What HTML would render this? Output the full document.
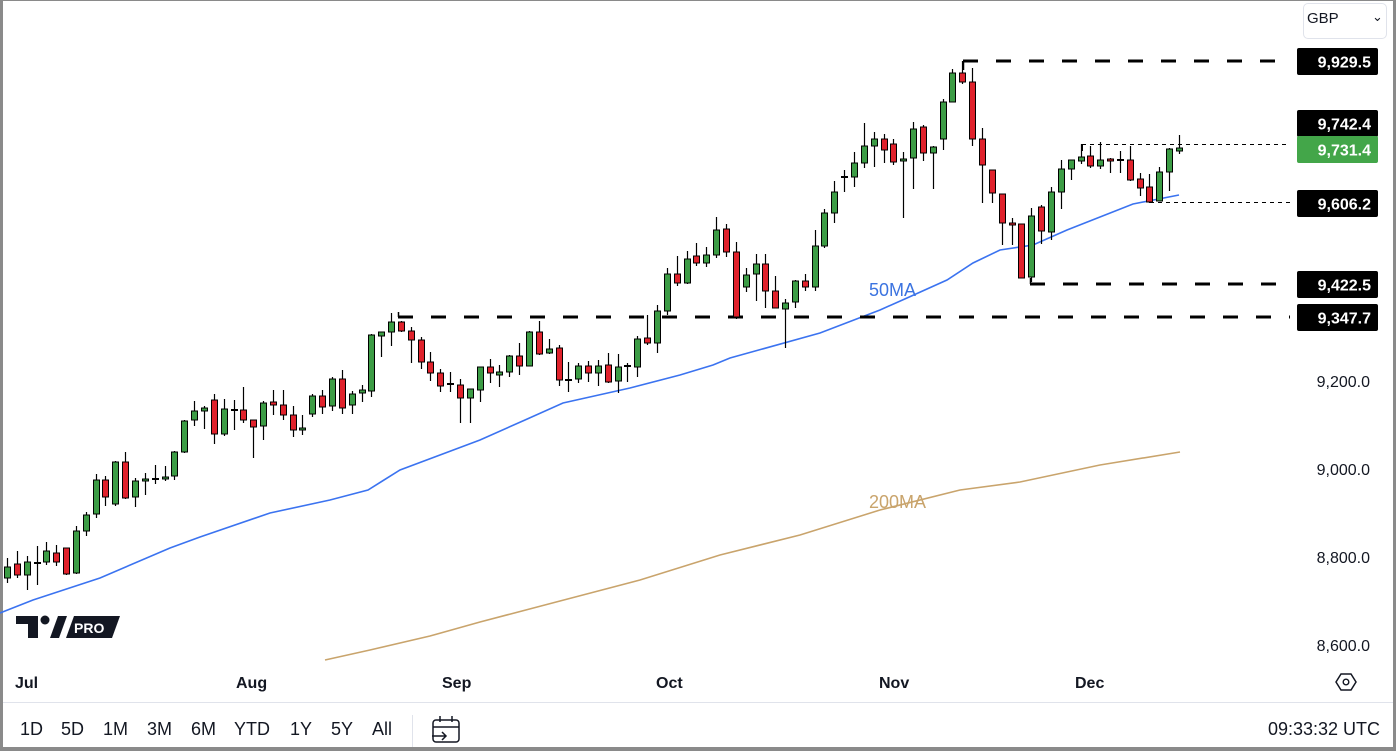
<!DOCTYPE html>
<html><head><meta charset="utf-8">
<style>
html,body{margin:0;padding:0;background:#fff;}
body{width:1396px;height:751px;overflow:hidden;position:relative;font-family:"Liberation Sans","DejaVu Sans",sans-serif;}
#frame{position:absolute;left:0;top:0;width:1390px;height:746px;border-left:3px solid #8a8a8a;border-right:3px solid #8a8a8a;border-bottom:4px solid #8a8a8a;border-top:1px solid #8a8a8a;}
.tb{position:absolute;top:719px;font-size:18px;color:#131722;}
.mo{position:absolute;top:675px;font-size:16px;font-weight:bold;color:#131722;}
</style></head><body>
<div id="frame"></div>
<svg id="s" width="1396" height="751" style="position:absolute;left:0;top:0" xmlns="http://www.w3.org/2000/svg">
<g id="ma"></g>
<g id="lines"></g>
<g id="c"></g>
<g id="axis" font-family="Liberation Sans, sans-serif"></g>
</svg>
<div class="mo" style="left:15px">Jul</div>
<div class="mo" style="left:236px">Aug</div>
<div class="mo" style="left:442px">Sep</div>
<div class="mo" style="left:656px">Oct</div>
<div class="mo" style="left:879px">Nov</div>
<div class="mo" style="left:1075px">Dec</div>
<div style="position:absolute;left:3px;top:702px;width:1390px;height:1px;background:#e0e3eb"></div>
<div class="tb" style="left:20px">1D</div>
<div class="tb" style="left:61px">5D</div>
<div class="tb" style="left:103px">1M</div>
<div class="tb" style="left:147px">3M</div>
<div class="tb" style="left:191px">6M</div>
<div class="tb" style="left:234px">YTD</div>
<div class="tb" style="left:290px">1Y</div>
<div class="tb" style="left:331px">5Y</div>
<div class="tb" style="left:372px">All</div>
<div style="position:absolute;left:412px;top:715px;width:1px;height:32px;background:#e0e3eb"></div>
<div class="tb" style="right:16px">09:33:32 UTC</div>
<div style="position:absolute;left:1303px;top:3px;width:82px;height:34px;border:1px solid #e0e3eb;border-radius:5px;"></div>
<div style="position:absolute;left:1307px;top:10px;font-size:15px;color:#131722">GBP</div>
<div style="position:absolute;left:1372px;top:9px;font-size:13px;color:#131722">&#8964;</div>
<script>
var S='http://www.w3.org/2000/svg';
function el(p,t,a,txt){var e=document.createElementNS(S,t);for(var k in a)e.setAttribute(k,a[k]);if(txt!=null)e.textContent=txt;document.getElementById(p).appendChild(e);return e;}
var D=[
['g',567,578,558,583],['r',564,575,551,578],['g',562,575,556,590],['d',563,563,546,585],['g',551,562,542,565],
['r',553,562,545,566],['r',548,574,548,575],['g',531,573,526,574],['g',515,531,512,536],['g',480,514,474,518],
['r',480,497,476,506],['g',462,504,461,506],['r',462,498,452,499],['g',481,497,478,507],['g',479,481,473,495],
['d',479,479,465,484],['g',477,479,466,481],['g',452,476,451,480],['g',421,452,420,453],['g',411,420,401,426],
['g',408,411,406,429],['r',400,434,394,444],['g',409,434,399,436],['d',410,410,400,430],['r',410,420,387,423],
['r',420,427,420,458],['g',403,426,401,440],['r',402,405,390,415],['r',405,415,390,420],['r',415,430,406,437],
['g',428,430,415,435],['g',396,414,394,417],['r',396,407,390,414],['g',379,406,377,411],['r',379,408,370,414],
['g',394,405,391,414],['g',390,393,385,402],['g',335,391,334,397],['g',332,336,332,357],['g',322,332,313,346],
['r',322,331,321,332],['r',331,340,327,363],['r',340,362,337,369],['r',362,373,352,381],['r',373,386,369,392],
['d',384,384,372,392],['r',385,398,379,423],['g',389,398,389,423],['g',367,390,367,402],['r',367,373,359,383],
['g',372,375,365,387],['g',356,372,355,377],['r',356,366,343,375],['g',332,366,331,366],['r',332,354,321,355],
['g',349,353,339,354],['r',348,380,345,386],['d',380,380,362,392],['g',366,379,363,383],['r',366,373,361,382],
['g',366,373,360,386],['r',365,382,353,383],['g',367,381,354,393],['d',366,366,363,382],['g',339,367,336,377],
['r',338,343,315,345],['g',311,343,305,353],['g',274,311,268,315],['r',274,283,256,286],['g',259,283,251,284],
['r',256,263,243,266],['g',255,263,247,267],['g',230,255,217,258],['r',229,252,224,257],['r',252,317,242,319],
['g',275,287,268,292],['g',264,274,254,301],['r',264,291,254,308],['r',291,308,276,308],['g',303,309,299,348],
['g',281,302,280,308],['r',281,287,274,291],['g',246,287,230,291],['g',213,246,209,248],['g',192,213,181,223],
['d',177,177,170,192],['g',163,177,152,187],['g',146,163,123,168],['g',139,146,132,167],['r',139,150,134,163],
['r',144,162,139,165],['g',159,161,152,218],['g',129,158,122,189],['r',127,153,125,161],['g',147,153,146,189],
['g',102,139,99,150],['g',73,102,69,102],['r',73,82,61,84],['r',82,139,68,146],['r',139,165,128,203],
['r',170,193,170,203],['r',194,223,194,245],['r',223,225,218,245],['r',224,278,224,278],['g',216,277,208,282],
['r',207,231,205,244],['g',192,232,187,240],['g',169,192,160,209],['g',160,169,160,180],['g',157,161,144,164],
['r',156,166,146,168],['g',160,166,142,169],['r',159,161,158,173],['d',160,160,151,173],['r',160,180,146,181],
['r',179,188,173,196],['r',187,202,174,203],['g',172,201,167,201],['g',149,172,148,191],['g',148,151,135,154]];
var n=D.length,sp=(1179-7)/(n-1);
for(var i=0;i<n;i++){var d=D[i],x=Math.round(7+sp*i)+0.5;
el('c','line',{x1:x,x2:x,y1:d[3],y2:d[4],stroke:'#000','stroke-width':1.2});
if(d[0]=='d'){el('c','rect',{x:x-3.5,y:d[1]-1,width:7,height:2,fill:'#000'});}
else{var h=Math.max(d[2]-d[1],2);el('c','rect',{x:x-3,y:d[1],width:6,height:h,fill:d[0]=='g'?'#3c9c45':'#e0222c',stroke:'#000','stroke-width':1});}}
el('ma','polyline',{points:'0,613 33,600 100,578 170,548 200,537 270,513 330,500 368,490 400,470 480,440 525,420 563,403 630,388 680,375 713,365 730,358 820,333 880,310 907,298 947,280 973,263 1000,250 1033,245 1067,230 1100,217 1133,204 1179,195',fill:'none',stroke:'#3b73f0','stroke-width':1.6});
el('ma','polyline',{points:'325,660 370,650 430,636 480,622 560,601 640,580 720,555 800,535 880,510 960,490 1020,482 1100,465 1180,452',fill:'none',stroke:'#c9a46c','stroke-width':1.6});
el('ma','text',{x:869,y:296,fill:'#3b73e0','font-size':18,'font-family':'Liberation Sans, sans-serif'},'50MA');
el('ma','text',{x:869,y:508,fill:'#c9a46c','font-size':18,'font-family':'Liberation Sans, sans-serif'},'200MA');
function th(x1,y,tx,ty){el('lines','line',{x1:x1,x2:1290,y1:y,y2:y,stroke:'#000','stroke-width':3,'stroke-dasharray':'15 18'});el('lines','line',{x1:tx,x2:tx,y1:ty,y2:y,stroke:'#000','stroke-width':1.5});}
th(963,61,963.5,70);th(1030,284,1030.5,278);th(398,317,398.5,312);
function tn(x1,y,ty){el('lines','line',{x1:x1,x2:1290,y1:y+.5,y2:y+.5,stroke:'#000','stroke-width':1,'stroke-dasharray':'4 4'});el('lines','line',{x1:x1+.5,x2:x1+.5,y1:y,y2:ty,stroke:'#000','stroke-width':1});}
tn(1082,144,151);tn(1150,202,198);
[[9929.5,48,'#000'],[9742.4,110,'#000'],[9731.4,136,'#43a649'],[9606.2,190,'#000'],[9422.5,271,'#000'],[9347.7,304,'#000']].forEach(function(b){
el('axis','rect',{x:1297,y:b[1],width:81,height:27,rx:2,fill:b[2]});
el('axis','text',{x:1371,y:b[1]+19.5,'text-anchor':'end',fill:'#fff','font-size':16,'font-weight':'bold'},b[0].toLocaleString('en-US',{minimumFractionDigits:1}));});
[['9,200.0',381],['9,000.0',469],['8,800.0',557],['8,600.0',645]].forEach(function(t){
el('axis','text',{x:1370,y:t[1]+6,'text-anchor':'end',fill:'#131722','font-size':16},t[0]);});
el('axis','polygon',{points:'1336,682 1341,674 1351,674 1356,682 1351,690 1341,690',fill:'none',stroke:'#131722','stroke-width':1.5});
el('axis','circle',{cx:1346,cy:682,r:2.8,fill:'none',stroke:'#131722','stroke-width':1.4});
el('axis','path',{d:'M16,616 L38,616 L38,638 L28,638 L28,624 L16,624 Z',fill:'#131722'});
el('axis','circle',{cx:45,cy:620,r:4.5,fill:'#131722'});
el('axis','path',{d:'M50,638 L58,616 L67,616 L59,638 Z',fill:'#131722'});
el('axis','path',{d:'M66,638 L74,616 L120,616 L112,638 Z',fill:'#131722'});
el('axis','text',{x:74,y:633,fill:'#fff','font-size':14,'font-weight':'bold'},'PRO');
el('axis','rect',{x:433,y:720,width:26,height:22,rx:3,fill:'none',stroke:'#131722','stroke-width':1.5});
el('axis','line',{x1:433,x2:459,y1:727,y2:727,stroke:'#131722','stroke-width':1.5});
el('axis','line',{x1:440,x2:440,y1:716,y2:722,stroke:'#131722','stroke-width':1.5});
el('axis','line',{x1:452,x2:452,y1:716,y2:722,stroke:'#131722','stroke-width':1.5});
el('axis','path',{d:'M432,736 L446,736 M442,732 L446,736 L442,740',fill:'none',stroke:'#131722','stroke-width':1.5});
</script>
</body></html>
